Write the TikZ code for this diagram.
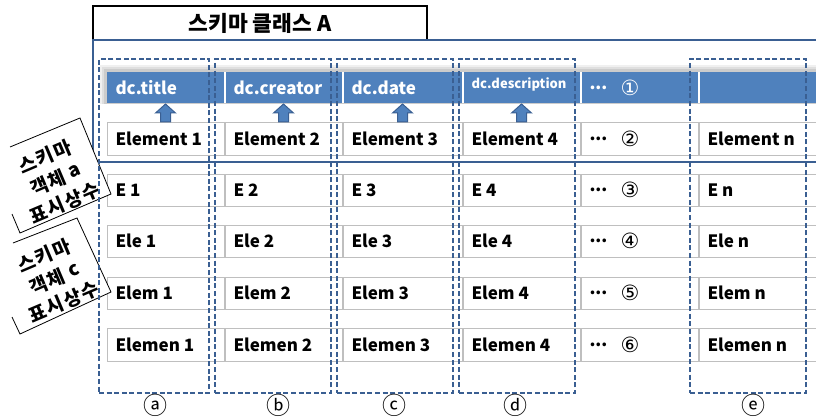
\documentclass[tikz,border=0pt]{standalone}
\usepackage{fontspec}
\setmainfont{Noto Sans CJK KR}
\newfontfamily\symf{DejaVu Sans}
\usetikzlibrary{shadows}
\definecolor{hblue}{HTML}{4F81BD}
\definecolor{fblue}{HTML}{3A5F92}
\definecolor{cellgray}{HTML}{BFBFBF}
\newcommand\tdots{...}
\begin{document}
\begin{tikzpicture}[x=1pt,y=-1pt,
  every node/.style={inner sep=0pt, outer sep=0pt},
  cellbox/.style={draw=cellgray, line width=0.9pt, fill=white,
    drop shadow={shadow xshift=0.4pt, shadow yshift=-1.4pt, fill=black!45, opacity=1}},
  celltext/.style={font=\bfseries\fontsize{17}{20}\selectfont, anchor=west},
  hdrtext/.style={font=\bfseries\fontsize{17}{20}\selectfont, text=white, anchor=west},
  circnum/.style={font=\symf\fontsize{21}{22}\selectfont},
  circlet/.style={font=\fontsize{24}{26}\selectfont},
  dashbox/.style={draw=fblue, line width=1.8pt, dash pattern=on 5pt off 2.6pt},
  frameline/.style={draw=fblue, line width=2.2pt},
  blk/.style={fill=hblue, draw=fblue, line width=1pt},
  tagglyph/.style={font=\bfseries\fontsize{19}{20}\selectfont, rotate=23},
  tagbox/.style={draw=black, line width=0.8pt},
  uparr/.pic={\draw[blk] (-5,0) -- (-5,-9) -- (-10,-9) -- (0,-18) -- (10,-9) -- (5,-9) -- (5,0) -- cycle;}
]
\useasboundingbox (0,0) rectangle (816,417);

% title
\node[draw=black, line width=1.3pt, minimum width=334pt, minimum height=34pt,
  font=\bfseries\fontsize{21.5}{24}\selectfont] (title) at (260,23) {스키마 클래스 A};

% header band with shadow
\fill[gray!12] (100,65) rectangle (830,104);
\fill[gray!25] (102,67) rectangle (830,104);
\fill[gray!40] (104,69.5) rectangle (830,104);
\foreach \a/\b [count=\i] in {107/225,225/343,343/463,463/581,581/699,699/830}{
  \node[fill=hblue, minimum width={(\b-\a)*1pt}, minimum height=31pt] (h\i) at ({(\a+\b)/2},87.5) {};
}
\foreach \i in {1,2,3,4,5}{
  \draw[white, line width=1.2pt] (h\i.north east) -- (h\i.south east);
}
\node[hdrtext] (ht1) at ([xshift=8.5pt]h1.west) {dc.title};
\node[hdrtext] (ht2) at ([xshift=8.5pt]h2.west) {dc.creator};
\node[hdrtext] (ht3) at ([xshift=8.5pt]h3.west) {dc.date};
\node[hdrtext, font=\bfseries\fontsize{13}{15}\selectfont] (ht4) at ([xshift=8.5pt,yshift=3pt]h4.west) {dc.description};
\node[hdrtext] (ht5) at ([xshift=8.5pt]h5.west) {\tdots};
\node[circnum, text=white] (hn5) at (630,87.5) {①};

% element rows
\foreach \ya/\yb/\r/\pre/\num in {122/155/1/Element/②,174/206/2/E/③,225/257/3/Ele/④,277/309/4/Elem/⑤,328/361/5/Elemen/⑥}{
  \foreach \a/\b/\t [count=\i] in {107/224/\pre\ 1,225/342/\pre\ 2,343/462/\pre\ 3,463/580/\pre\ 4,581/698/\tdots,699/830/\pre\ n}{
    \node[cellbox, minimum width={(\b-\a)*1pt}, minimum height={(\yb-\ya)*1pt}] (c\r-\i) at ({(\a+\b)/2},{(\ya+\yb)/2}) {};
    \node[celltext] (t\r-\i) at ([xshift=8.5pt]c\r-\i.west) {\t};
  }
  \node[circnum] (n\r) at (630,{(\ya+\yb)/2}) {\num};
}

% arrows from elements up to header
\foreach \i in {1,2,3,4}{
  \path (c1-\i.north) pic {uparr};
}

% frame
\draw[frameline] (830,40) -- (93,40) -- (93,162) -- (830,162);

% rotated tags: boxes
\fill[white] (12,214) -- (20,233) -- (111,194) -- (80,118) -- (10,147) -- cycle;
\draw[tagbox] (12,214) -- (20,233) -- (111,194) -- (80,118) -- (10,147);
\fill[white] (12,317) -- (20,334) -- (111,292) -- (77,218) -- (13,243) -- cycle;
\draw[tagbox] (12,317) -- (20,334) -- (111,292) -- (77,218) -- (13,243);
% rotated tags: text set glyph by glyph along a 23 degree baseline
\foreach \cx/\cy/\tn/\lt in {55/180/a/a,54/279/c/c}{
  \foreach \s/\g [count=\j] in {-19/스,0/키,19/마}{
    \node[tagglyph] (tg\tn1\j) at ({\cx-25*0.3907+\s*0.9205},{\cy-25*0.9205-\s*0.3907}) {\g};
  }
  \foreach \s/\g [count=\j] in {-17/객,2/체,21.5/\lt}{
    \node[tagglyph] (tg\tn2\j) at ({\cx+\s*0.9205},{\cy-\s*0.3907}) {\g};
  }
  \foreach \s/\g [count=\j] in {-28.5/표,-9.5/시,9.5/상,28.5/수}{
    \node[tagglyph] (tg\tn3\j) at ({\cx+25*0.3907+\s*0.9205},{\cy+25*0.9205-\s*0.3907}) {\g};
  }
}

% dashed column groups
\foreach \a/\b/\n in {99/209/a,215/331/b,337/453/c,459/575/d,690/806/e}{
  \node[dashbox, minimum width={(\b-\a)*1pt}, minimum height=334pt] (d\n) at ({(\a+\b)/2},226) {};
}
\node[circlet] (la) at (155,405) {ⓐ};
\node[circlet] (lb) at (278,405) {ⓑ};
\node[circlet] (lc) at (394,405) {ⓒ};
\node[circlet] (ld) at (515,405) {ⓓ};
\node[circlet] (le) at (753,405) {ⓔ};
\end{tikzpicture}
\end{document}
